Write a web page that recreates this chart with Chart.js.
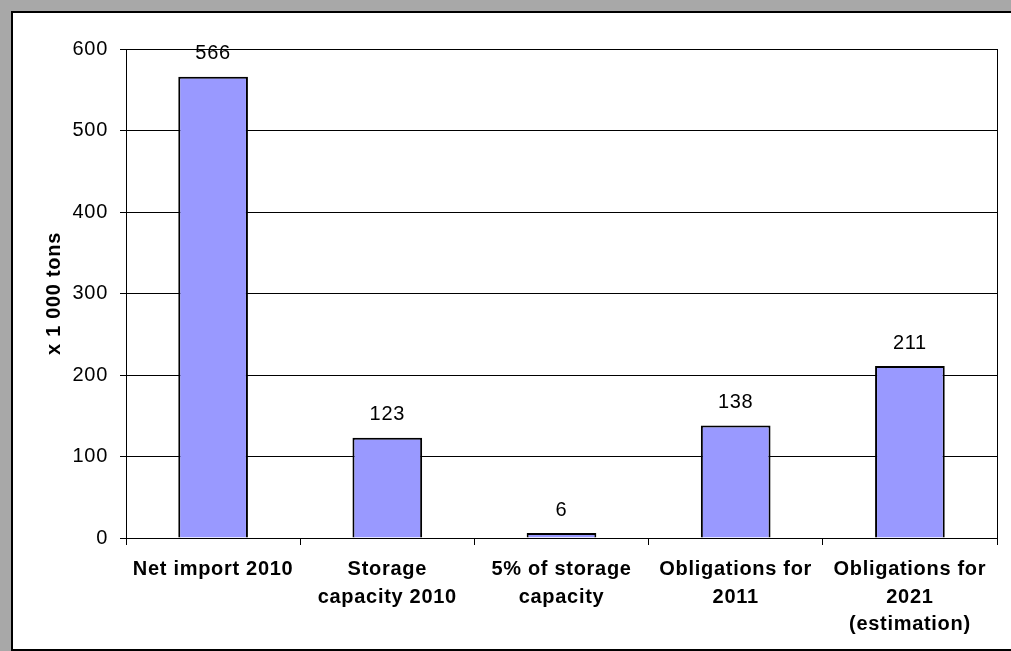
<!DOCTYPE html>
<html>
<head>
<meta charset="utf-8">
<script src="https://cdn.jsdelivr.net/npm/chart.js@4/dist/chart.umd.min.js"></script>
<style>
  html, body { margin: 0; padding: 0; background: #a8a8a8; width: 1011px; height: 651px; overflow: hidden; }
  #frame { position: absolute; left: 11px; top: 11px; width: 1020px; height: 636px; background: #fff; border: 2px solid #000; }
  #chart { position: absolute; left: 0; top: 0; }
</style>
</head>
<body>
<div id="frame"></div>
<canvas id="chart" width="1011" height="651"></canvas>
<script>
const categories = [
  "Net import 2010",
  ["Storage", "capacity 2010"],
  ["5% of storage", "capacity"],
  ["Obligations for", "2011"],
  ["Obligations for", "2021", "(estimation)"]
];
const values = [566, 123, 6, 138, 211];
const yTitle = "x 1 000 tons";

const FONT = '"Liberation Sans", Arial, sans-serif';

// the original text is set a little wider than canvas default
const spacing = {
  id: "spacing",
  beforeDraw(chart) {
    chart.ctx.letterSpacing = "0.7px";
  }
};

// value labels above each bar
const valueLabels = {
  id: "valueLabels",
  afterDatasetsDraw(chart) {
    const ctx = chart.ctx;
    const meta = chart.getDatasetMeta(0);
    ctx.save();
    ctx.font = "20px " + FONT;
    ctx.fillStyle = "#000";
    ctx.textAlign = "center";
    ctx.textBaseline = "middle";
    meta.data.forEach((bar, i) => {
      ctx.fillText(String(values[i]), bar.x, bar.y - 23);
    });
    ctx.restore();
  }
};

new Chart(document.getElementById("chart"), {
  type: "bar",
  data: {
    labels: categories,
    datasets: [{
      data: values,
      backgroundColor: "#9999ff",
      borderColor: "#000",
      borderWidth: 2,
      categoryPercentage: 1,
      barPercentage: 0.4
    }]
  },
  options: {
    responsive: false,
    animation: false,
    layout: { padding: { top: 49, left: 0, right: 0, bottom: 0 } },
    plugins: { legend: { display: false }, tooltip: { enabled: false } },
    scales: {
      x: {
        afterFit: s => { s.height = 113; },
        grid: { offset: true, drawOnChartArea: false, color: "#000", tickLength: 7 },
        border: { color: "#000" },
        ticks: {
          color: "#000",
          font: { family: FONT, size: 20, weight: "bold", lineHeight: 1.375 },
          padding: 11,
          maxRotation: 0,
          autoSkip: false
        }
      },
      y: {
        min: 0,
        max: 600,
        afterFit: s => { s.width = 126; },
        grid: { color: "#000", tickLength: 6 },
        border: { color: "#000" },
        ticks: {
          stepSize: 100,
          color: "#000",
          font: { family: FONT, size: 20 },
          padding: 12
        },
        title: {
          display: true,
          text: yTitle,
          color: "#000",
          font: { family: FONT, size: 20, weight: "bold" },
          padding: { top: 42, bottom: 0 }
        }
      },
      y2: {
        position: "right",
        min: 0,
        max: 600,
        afterFit: s => { s.width = 14; },
        grid: { drawOnChartArea: false, drawTicks: false },
        border: { color: "#000" },
        ticks: { display: false }
      }
    }
  },
  plugins: [spacing, valueLabels]
});
</script>
</body>
</html>
